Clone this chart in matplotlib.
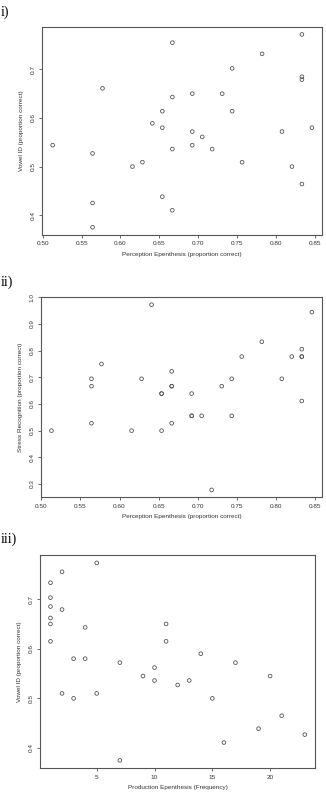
import matplotlib.pyplot as plt
import numpy as np

# Panel (i): perception epenthesis vs vowel ID
perc_x1 = [0.5128, 0.5641, 0.5641, 0.5641, 0.5769, 0.6154, 0.6282, 0.6410,
           0.6538, 0.6538, 0.6538, 0.6667, 0.6667, 0.6667, 0.6667, 0.6923,
           0.6923, 0.6923, 0.7051, 0.7179, 0.7308, 0.7436, 0.7436, 0.7564,
           0.7821, 0.8077, 0.8205, 0.8333, 0.8333, 0.8333, 0.8333, 0.8462]
vowel_y1 = [0.544, 0.527, 0.425, 0.375, 0.661, 0.500, 0.509, 0.589,
            0.614, 0.580, 0.438, 0.755, 0.643, 0.536, 0.410, 0.650,
            0.572, 0.544, 0.561, 0.536, 0.650, 0.702, 0.614, 0.509,
            0.732, 0.572, 0.500, 0.772, 0.685, 0.679, 0.464, 0.580]

# Panel (ii): perception epenthesis vs stress recognition
perc_x2 = [0.5128, 0.5641, 0.5641, 0.5641, 0.5769, 0.6154, 0.6282, 0.6410,
           0.6538, 0.6538, 0.6538, 0.6667, 0.6667, 0.6667, 0.6667, 0.6923,
           0.6923, 0.6923, 0.7051, 0.7179, 0.7308, 0.7436, 0.7436, 0.7564,
           0.7821, 0.8077, 0.8205, 0.8333, 0.8333, 0.8333, 0.8333, 0.8462]
stress_y2 = [0.5000, 0.6944, 0.6667, 0.5278, 0.7500, 0.5000, 0.6944, 0.9722,
             0.6389, 0.6389, 0.5000, 0.7222, 0.6667, 0.6667, 0.5278, 0.6389,
             0.5556, 0.5556, 0.5556, 0.2778, 0.6667, 0.6944, 0.5556, 0.7778,
             0.8333, 0.6944, 0.7778, 0.8056, 0.7778, 0.7778, 0.6111, 0.9444]

# Panel (iii): production epenthesis frequency vs vowel ID
prod_x3 = [1, 1, 1, 1, 1, 1, 2, 2, 2, 3, 3, 4, 4, 5, 5, 7,
           7, 9, 10, 10, 11, 11, 12, 13, 14, 15, 16, 17, 19, 20, 21, 23]
vowel_y3 = [0.733, 0.703, 0.685, 0.662, 0.650, 0.615, 0.755, 0.679,
            0.510, 0.580, 0.500, 0.643, 0.580, 0.773, 0.510, 0.572,
            0.375, 0.545, 0.562, 0.536, 0.650, 0.615, 0.527, 0.536,
            0.590, 0.500, 0.411, 0.572, 0.439, 0.545, 0.465, 0.427]

W, H = 326, 798
fig = plt.figure(figsize=(W / 100, H / 100), dpi=100)
fig.patch.set_facecolor('white')

frame_col = '#555555'
pt_col = '#555555'
sans = ['Liberation Sans', 'DejaVu Sans']
serif = ['Liberation Serif', 'DejaVu Serif']


def rlim(vals):
    # R-style 4% padding
    lo, hi = min(vals), max(vals)
    pad = 0.04 * (hi - lo)
    return lo - pad, hi + pad


def panel(box, xs, ys, xticks, yticks, xfmt, yfmt, xlabel, ylabel, tag, tag_y):
    left, top, right, bottom = box
    ax = fig.add_axes([left / W, 1 - bottom / H, (right - left) / W, (bottom - top) / H])
    ax.scatter(xs, ys, s=7, facecolors='none', edgecolors=pt_col, linewidths=0.6)
    ax.set_xlim(*rlim(xs))
    ax.set_ylim(*rlim(ys))
    ax.set_xticks(xticks)
    ax.set_xticklabels([xfmt.format(v) for v in xticks], fontsize=4.6, family=sans, color='#333333')
    ax.set_yticks(yticks)
    ax.set_yticklabels([yfmt.format(v) for v in yticks], fontsize=4.6, family=sans,
                       color='#333333', rotation=90, va='center')
    ax.tick_params(direction='out', length=2.5, width=0.6, colors=frame_col, pad=2,
                   labelcolor='#333333')
    for sp in ax.spines.values():
        sp.set_color(frame_col)
        sp.set_linewidth(0.8)
    ax.set_xlabel(xlabel, fontsize=4.6, family=sans, color='#333333', labelpad=4)
    ax.set_ylabel(ylabel, fontsize=4.6, family=sans, color='#333333', labelpad=5)
    fig.text(0.5 / W, 1 - tag_y / H, tag, fontsize=10, family=serif, va='center', ha='left')
    return ax


panel((42.3, 26.7, 322.3, 235), perc_x1, vowel_y1,
      np.arange(0.50, 0.851, 0.05), [0.4, 0.5, 0.6, 0.7], '{:.2f}', '{:.1f}',
      'Perception Epenthesis (proportion correct)', 'Vowel ID (proportion correct)',
      'i)', 12)

panel((41.0, 297.3, 322.3, 497.3), perc_x2, stress_y2,
      np.arange(0.50, 0.851, 0.05), np.arange(0.3, 1.01, 0.1), '{:.2f}', '{:.1f}',
      'Perception Epenthesis (proportion correct)', 'Stress Recognition (proportion correct)',
      'ii)', 282)

panel((40.3, 555, 315, 768.3), prod_x3, vowel_y3,
      [5, 10, 15, 20], [0.4, 0.5, 0.6, 0.7], '{:d}', '{:.1f}',
      'Production Epenthesis (Frequency)', 'Vowel ID (proportion correct)',
      'iii)', 539)

fig.savefig('out.png', dpi=100)
